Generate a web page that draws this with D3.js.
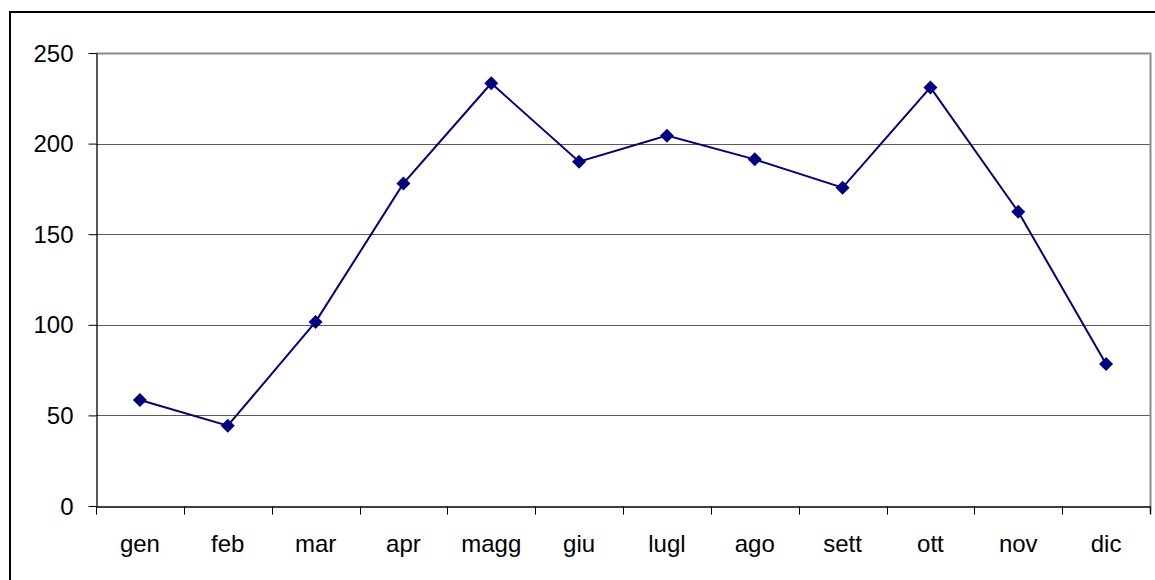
<!DOCTYPE html>
<html>
<head>
<meta charset="utf-8">
<script src="https://cdn.jsdelivr.net/npm/d3@7"></script>
<style>
  html, body { margin: 0; padding: 0; background: #fff; }
  svg { display: block; }
  text { font-family: "Liberation Sans", Arial, sans-serif; }
</style>
</head>
<body>
<svg id="chart" width="1155" height="580"></svg>
<script>
const months = ["gen", "feb", "mar", "apr", "magg", "giu", "lugl", "ago", "sett", "ott", "nov", "dic"];
const values = [58.5, 44.3, 101.6, 178, 233.3, 190, 204.4, 191.3, 175.7, 231, 162.4, 78.4];
const yTicks = [0, 50, 100, 150, 200, 250];

const svg = d3.select("#chart");
const pLeft = 96, pRight = 1150, pTop = 53, pBottom = 506;

// outer frame
svg.append("rect").attr("x", 10).attr("y", 12).attr("width", 1160).attr("height", 600)
  .attr("fill", "#fff").attr("stroke", "#000").attr("stroke-width", 2);

const x = d3.scaleBand().domain(months).range([pLeft, pRight]).padding(0);
const y = d3.scaleLinear().domain([0, 250]).range([pBottom, pTop]);

// gridlines
svg.append("g").selectAll("line").data(yTicks.filter(d => d > 0 && d < 250)).join("line")
  .attr("x1", pLeft).attr("x2", pRight)
  .attr("y1", d => Math.round(y(d)) + 0.5).attr("y2", d => Math.round(y(d)) + 0.5)
  .attr("stroke", "#5a5a5a").attr("stroke-width", 1);

// plot frame top/right (gray)
svg.append("line").attr("x1", pLeft).attr("x2", pRight + 1).attr("y1", pTop + 0.5).attr("y2", pTop + 0.5)
  .attr("stroke", "#8c8c8c").attr("stroke-width", 2);
svg.append("line").attr("x1", pRight + 0.5).attr("x2", pRight + 0.5).attr("y1", pTop).attr("y2", pBottom + 8)
  .attr("stroke", "#8c8c8c").attr("stroke-width", 2);

// y axis
const yAxis = d3.axisLeft(y).tickValues(yTicks).tickSize(8).tickPadding(15).tickSizeOuter(0);
const gy = svg.append("g").attr("transform", `translate(${pLeft + 0.5},0)`).call(yAxis);
gy.selectAll("text").style("font-size", "24px").attr("fill", "#000").attr("dy", "0.34em");
gy.selectAll("line").attr("stroke", "#000");
gy.select(".domain").attr("stroke", "#000").attr("stroke-width", 1.3);

// x axis
const xAxis = d3.axisBottom(x).tickSize(0).tickPadding(28).tickSizeOuter(0);
const gx = svg.append("g").attr("transform", `translate(0,${pBottom + 0.5})`).call(xAxis);
gx.selectAll("text").style("font-size", "24px").attr("fill", "#000");
gx.select(".domain").attr("stroke", "#000").attr("stroke-width", 1.3);
// ticks at category boundaries
const bounds = months.map(m => x(m)).concat([pRight]);
gx.append("g").selectAll("line").data(bounds).join("line")
  .attr("x1", d => Math.round(d) + 0.5).attr("x2", d => Math.round(d) + 0.5)
  .attr("y1", 0).attr("y2", 8).attr("stroke", "#000");

// line
const pts = months.map((m, i) => [x(m) + x.bandwidth() / 2, y(values[i])]);
svg.append("path").datum(pts)
  .attr("d", d3.line())
  .attr("fill", "none").attr("stroke", "#000080").attr("stroke-width", 2);

// diamond markers
const r = 7;
svg.append("g").selectAll("path").data(pts).join("path")
  .attr("d", d => `M${d[0]},${d[1] - r}L${d[0] + r},${d[1]}L${d[0]},${d[1] + r}L${d[0] - r},${d[1]}Z`)
  .attr("fill", "#000080");
</script>
</body>
</html>
